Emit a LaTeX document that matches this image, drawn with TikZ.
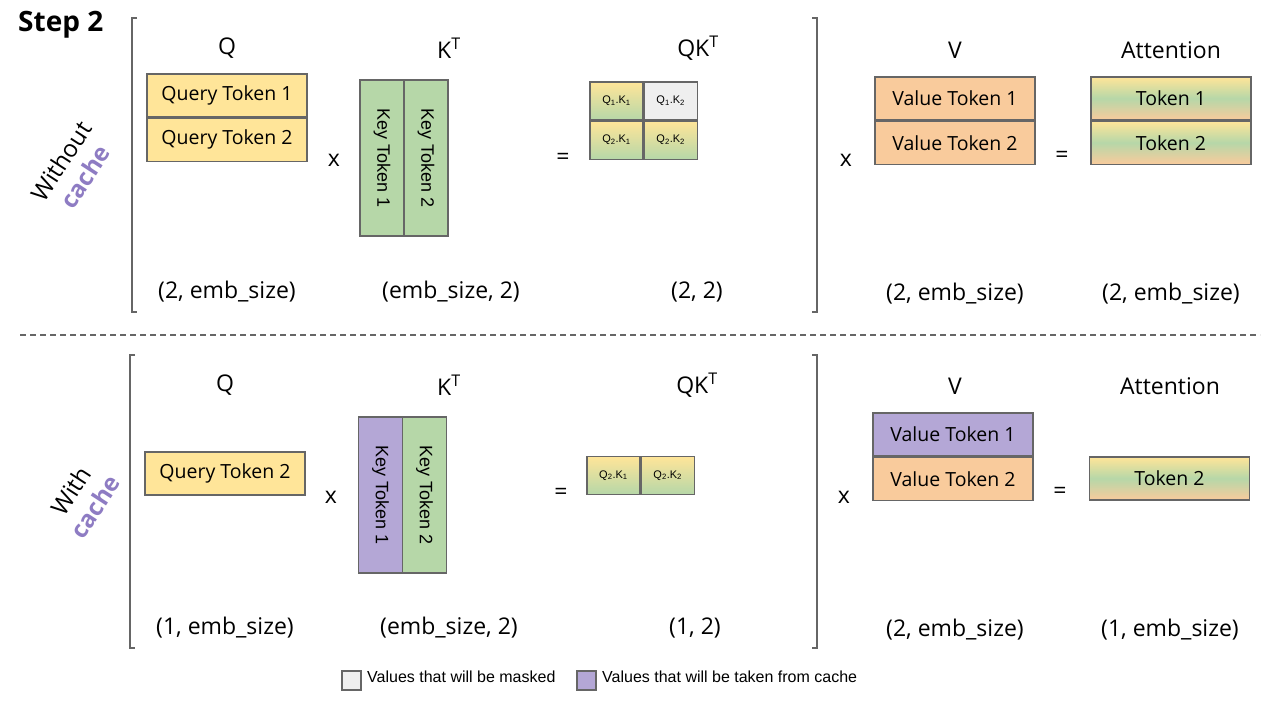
\documentclass[tikz,border=0pt]{standalone}
\usepackage{fontspec}
\setmainfont{Open Sans}
\newfontfamily\arialf{Liberation Sans}
\usetikzlibrary{positioning}
\definecolor{qyellow}{HTML}{FFE599}
\definecolor{kgreen}{HTML}{B6D7A8}
\definecolor{vorange}{HTML}{F9CB9C}
\definecolor{cpurple}{HTML}{B4A7D6}
\definecolor{mgray}{HTML}{EFEFEF}
\definecolor{edgegray}{HTML}{666666}
\definecolor{cachetxt}{HTML}{8E7CC3}
\newcommand{\fs}[1]{\fontsize{#1}{#1}\selectfont}
\tikzset{
  tokbox/.style={draw=edgegray,line width=1.2pt,minimum width=160,minimum height=43,inner sep=0pt,font=\fs{19.5}},
  keybox/.style={draw=edgegray,line width=1.2pt,minimum width=156,minimum height=44,inner sep=0pt,rotate=-90,font=\arialf\fs{18}},
  qkcell/.style={draw=edgegray,line width=1.2pt,minimum width=53,minimum height=38,inner sep=0pt,font=\arialf\fs{11},top color=qyellow,bottom color=kgreen},
  attbox/.style={tokbox,top color=qyellow,bottom color=vorange,middle color=kgreen},
  head/.style={font=\fs{23}},
  dimlbl/.style={font=\fs{23}},
  opsym/.style={font=\fs{23}},
  brk/.style={draw=edgegray,line width=2.5pt},
  legbox/.style={draw=edgegray,line width=1.2pt,minimum width=19,minimum height=19,inner sep=0pt},
  legtxt/.style={font=\arialf\fs{16},anchor=west,inner sep=0pt}
}
\begin{document}
\begin{tikzpicture}[x=1pt,y=-1pt]
\useasboundingbox (0,0) rectangle (1280,703);
% title and dashed separator
\node[font=\bfseries\fs{28},anchor=west,inner sep=0pt] (title) at (18,25) {Step 2};
\draw[edgegray,line width=1.2pt,dash pattern=on 6pt off 4pt] (20,335) -- (1260,335);
% brackets
\draw[brk] (137,18) -- (132,18) -- (132,312) -- (137,312);
\draw[brk] (812,18) -- (817,18) -- (817,312) -- (812,312);
\draw[brk] (135,355) -- (130,355) -- (130,648) -- (135,648);
\draw[brk] (812,355) -- (817,355) -- (817,648) -- (812,648);
% row labels
\node[rotate=57,align=center,font=\fs{24},inner sep=0pt] (nocache) at (73,169) {Without\\[5pt]\textcolor{cachetxt}{\bfseries cache}};
\node[rotate=57,align=center,font=\fs{24},inner sep=0pt] (withcache) at (83,499) {With\\[5pt]\textcolor{cachetxt}{\bfseries cache}};

% ---- without cache ----
\node[head] (hq) at (227,48) {Q};
\node[head] (hk) at (449,48) {K\textsuperscript{T}};
\node[head] (hqk) at (698,48) {QK\textsuperscript{T}};
\node[head] (hv) at (955,50) {V};
\node[head] (ha) at (1171,50) {Attention};
\node[tokbox,fill=qyellow] (q1) at (227,95.5) {Query Token 1};
\node[tokbox,fill=qyellow,below=0pt of q1] (q2) {Query Token 2};
\node[opsym] (x1) at (334,160) {x};
\node[keybox,fill=kgreen] (k1) at (382,158) {Key Token 1};
\node[keybox,fill=kgreen] (k2) at (426,158) {Key Token 2};
\node[opsym] (e1) at (563,159) {=};
\node[qkcell] (s11) at (616.5,101) {Q\textsubscript{1}.K\textsubscript{1}};
\node[qkcell,fill=mgray,top color=mgray,bottom color=mgray,right=0pt of s11] (s12) {Q\textsubscript{1}.K\textsubscript{2}};
\node[qkcell,below=0pt of s11] (s21) {Q\textsubscript{2}.K\textsubscript{1}};
\node[qkcell,right=0pt of s21] (s22) {Q\textsubscript{2}.K\textsubscript{2}};
\node[opsym] (x2) at (846,160) {x};
\node[tokbox,fill=vorange] (v1) at (955,98.5) {Value Token 1};
\node[tokbox,fill=vorange,below=0pt of v1] (v2) {Value Token 2};
\node[opsym] (e2) at (1062,157) {=};
\node[attbox] (a1) at (1171,98.5) {Token 1};
\node[attbox,below=0pt of a1] (a2) {Token 2};
\node[dimlbl] (dq) at (227,292) {(2, emb\_size)};
\node[dimlbl] (dk) at (451,292) {(emb\_size, 2)};
\node[dimlbl] (dqk) at (697,292) {(2, 2)};
\node[dimlbl] (dv) at (955,294) {(2, emb\_size)};
\node[dimlbl] (da) at (1171,294) {(2, emb\_size)};

% ---- with cache ----
\node[head] (hqb) at (225,385) {Q};
\node[head] (hkb) at (449,385) {K\textsuperscript{T}};
\node[head] (hqkb) at (697,385) {QK\textsuperscript{T}};
\node[head] (hvb) at (955,386) {V};
\node[head] (hab) at (1170,386) {Attention};
\node[tokbox,fill=qyellow] (qb2) at (225,473.5) {Query Token 2};
\node[opsym] (x3) at (331,497) {x};
\node[keybox,fill=cpurple] (kb1) at (380.5,495) {Key Token 1};
\node[keybox,fill=kgreen] (kb2) at (424.5,495) {Key Token 2};
\node[opsym] (e3) at (561,494) {=};
\node[qkcell] (sb21) at (613.5,475.5) {Q\textsubscript{2}.K\textsubscript{1}};
\node[qkcell,right=0pt of sb21] (sb22) {Q\textsubscript{2}.K\textsubscript{2}};
\node[opsym] (x4) at (844,497) {x};
\node[tokbox,fill=cpurple] (vb1) at (953,434.5) {Value Token 1};
\node[tokbox,fill=vorange,below=0pt of vb1] (vb2) {Value Token 2};
\node[opsym] (e4) at (1060,493) {=};
\node[attbox] (ab2) at (1169.5,478.5) {Token 2};
\node[dimlbl] (dqb) at (225,628) {(1, emb\_size)};
\node[dimlbl] (dkb) at (449,628) {(emb\_size, 2)};
\node[dimlbl] (dqkb) at (695,628) {(1, 2)};
\node[dimlbl] (dvb) at (955,630) {(2, emb\_size)};
\node[dimlbl] (dab) at (1170,630) {(1, emb\_size)};

% legend
\node[legbox,fill=mgray] (lmask) at (351.5,680.5) {};
\node[legtxt] (tmask) at (367,677) {Values that will be masked};
\node[legbox,fill=cpurple] (lcache) at (586.5,680.5) {};
\node[legtxt] (tcache) at (602,677) {Values that will be taken from cache};
\end{tikzpicture}
\end{document}
